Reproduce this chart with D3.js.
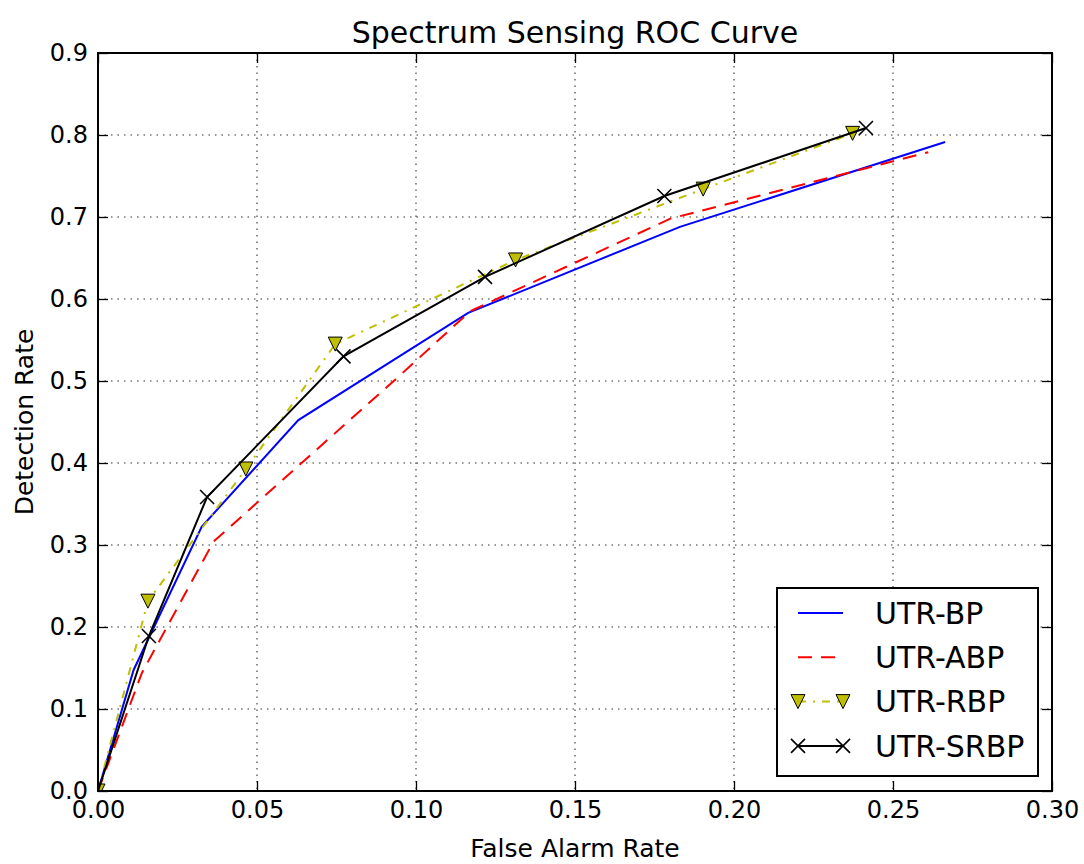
<!DOCTYPE html>
<html>
<head>
<meta charset="utf-8">
<script src="https://cdn.jsdelivr.net/npm/d3@7"></script>
<style>
  html, body { margin: 0; padding: 0; background: #fff; }
  svg { display: block; font-family: "DejaVu Sans", sans-serif; }
</style>
</head>
<body>
<svg id="chart" width="1084" height="864"></svg>
<script>
// ---- data ----
const xTicks = [0.00, 0.05, 0.10, 0.15, 0.20, 0.25, 0.30];
const yTicks = [0.0, 0.1, 0.2, 0.3, 0.4, 0.5, 0.6, 0.7, 0.8, 0.9];

const seriesNames = ["UTR-BP", "UTR-ABP", "UTR-RBP", "UTR-SRBP"];

const faBP = [0, 0.0112, 0.0326, 0.0630, 0.1164, 0.1830, 0.2664];
const drBP = [0, 0.1476, 0.3223, 0.4524, 0.5830, 0.6880, 0.7915];

const faABP = [0, 0.0138, 0.0363, 0.0640, 0.0930, 0.1170, 0.1800, 0.2611];
const drABP = [0, 0.1440, 0.3040, 0.4000, 0.5000, 0.5850, 0.6980, 0.7790];

const faRBP = [0, 0.0157, 0.0465, 0.0746, 0.1313, 0.1903, 0.2373];
const drRBP = [0, 0.2315, 0.3927, 0.5450, 0.6476, 0.7340, 0.8020];

const faSRBP = [0, 0.0160, 0.0343, 0.0772, 0.1217, 0.1781, 0.2415];
const drSRBP = [0, 0.1890, 0.3585, 0.5300, 0.6270, 0.7256, 0.8085];

// ---- layout / styles ----
const W = 1084, H = 864;
const plot = { left: 98, right: 1052, top: 53, bottom: 791 };
const FONT = "'DejaVu Sans', sans-serif";

const styles = [
  { color: "#0000ff", dash: null, marker: null, firstMarker: 0 },
  { color: "#ff0000", dash: "14,9", marker: null, firstMarker: 0 },
  { color: "#bfbf00", dash: "8,7,2,7", marker: "tri", firstMarker: 0 },
  { color: "#000000", dash: null, marker: "x", firstMarker: 1 }
];

const series = [
  { name: seriesNames[0], x: faBP, y: drBP },
  { name: seriesNames[1], x: faABP, y: drABP },
  { name: seriesNames[2], x: faRBP, y: drRBP },
  { name: seriesNames[3], x: faSRBP, y: drSRBP }
].map((s, i) => ({ ...s, style: styles[i], pts: s.x.map((v, k) => [v, s.y[k]]) }));

const svg = d3.select("#chart");
const x = d3.scaleLinear().domain([0, 0.30]).range([plot.left, plot.right]);
const y = d3.scaleLinear().domain([0, 0.9]).range([plot.bottom, plot.top]);

svg.append("rect").attr("width", W).attr("height", H).attr("fill", "#fff");

svg.append("defs").append("clipPath").attr("id", "clip")
  .append("rect")
  .attr("x", plot.left).attr("y", plot.top)
  .attr("width", plot.right - plot.left).attr("height", plot.bottom - plot.top);

// grid
const grid = svg.append("g").attr("stroke", "#333").attr("stroke-width", 1.1)
  .attr("stroke-dasharray", "1.5,5");
grid.selectAll(".gx").data(xTicks).join("line")
  .attr("x1", d => x(d)).attr("x2", d => x(d))
  .attr("y1", plot.top).attr("y2", plot.bottom);
grid.selectAll(".gy").data(yTicks).join("line")
  .attr("y1", d => y(d)).attr("y2", d => y(d))
  .attr("x1", plot.left).attr("x2", plot.right);

// lines
const lineGen = d3.line().x(d => x(d[0])).y(d => y(d[1]));
const plotG = svg.append("g").attr("clip-path", "url(#clip)");

function drawMarker(g, type, cx, cy, color, sz) {
  if (type === "tri") {
    g.append("path")
      .attr("d", `M${cx - sz},${cy - sz}L${cx + sz},${cy - sz}L${cx},${cy + sz}Z`)
      .attr("fill", color).attr("stroke", "#000").attr("stroke-width", 1);
  } else if (type === "x") {
    g.append("path")
      .attr("d", `M${cx - sz},${cy - sz}L${cx + sz},${cy + sz}M${cx - sz},${cy + sz}L${cx + sz},${cy - sz}`)
      .attr("fill", "none").attr("stroke", color).attr("stroke-width", 1.6);
  }
}

series.forEach(s => {
  plotG.append("path")
    .attr("d", lineGen(s.pts))
    .attr("fill", "none")
    .attr("stroke", s.style.color)
    .attr("stroke-width", 2)
    .attr("stroke-dasharray", s.style.dash);
  if (s.style.marker) {
    const mg = plotG.append("g");
    s.pts.forEach((p, k) => {
      if (k < s.style.firstMarker) return;
      drawMarker(mg, s.style.marker, x(p[0]), y(p[1]), s.style.color, 7);
    });
  }
});

// axes (ticks inside on all four sides)
const TS = 10;
const axB = svg.append("g").attr("transform", `translate(0,${plot.bottom})`)
  .call(d3.axisBottom(x).tickValues(xTicks).tickSize(-TS).tickPadding(10).tickFormat(d3.format(".2f")));
const axL = svg.append("g").attr("transform", `translate(${plot.left},0)`)
  .call(d3.axisLeft(y).tickValues(yTicks).tickSize(-TS).tickPadding(10).tickFormat(d3.format(".1f")));
const axT = svg.append("g").attr("transform", `translate(0,${plot.top})`)
  .call(d3.axisTop(x).tickValues(xTicks).tickSize(-TS).tickFormat(""));
const axR = svg.append("g").attr("transform", `translate(${plot.right},0)`)
  .call(d3.axisRight(y).tickValues(yTicks).tickSize(-TS).tickFormat(""));
[axB, axL, axT, axR].forEach(a => {
  a.select(".domain").remove();
  a.selectAll(".tick line").attr("stroke", "#000").attr("stroke-width", 1.3);
  a.selectAll(".tick text").attr("font-family", FONT).attr("font-size", 24).attr("fill", "#000");
});

// spines
svg.append("rect")
  .attr("x", plot.left).attr("y", plot.top)
  .attr("width", plot.right - plot.left).attr("height", plot.bottom - plot.top)
  .attr("fill", "none").attr("stroke", "#000").attr("stroke-width", 2);

// title & labels
svg.append("text").attr("x", (plot.left + plot.right) / 2).attr("y", 43)
  .attr("text-anchor", "middle").attr("font-family", FONT).attr("font-size", 30)
  .text("Spectrum Sensing ROC Curve");
svg.append("text").attr("x", (plot.left + plot.right) / 2).attr("y", 857)
  .attr("text-anchor", "middle").attr("font-family", FONT).attr("font-size", 25)
  .text("False Alarm Rate");
svg.append("text")
  .attr("transform", `translate(33,${(plot.top + plot.bottom) / 2}) rotate(-90)`)
  .attr("text-anchor", "middle").attr("font-family", FONT).attr("font-size", 25)
  .text("Detection Rate");

// legend
const leg = svg.append("g");
leg.append("rect").attr("x", 777).attr("y", 588).attr("width", 261).attr("height", 188)
  .attr("fill", "#fff").attr("stroke", "#000").attr("stroke-width", 2);
const legY0 = 613, legDy = 44.3, lx0 = 798, lx1 = 843;
series.forEach((s, i) => {
  const ly = legY0 + i * legDy;
  leg.append("line").attr("x1", lx0).attr("x2", lx1).attr("y1", ly).attr("y2", ly)
    .attr("stroke", s.style.color).attr("stroke-width", 2)
    .attr("stroke-dasharray", s.style.dash);
  if (s.style.marker) {
    drawMarker(leg, s.style.marker, lx0, ly, s.style.color, 7);
    drawMarker(leg, s.style.marker, lx1, ly, s.style.color, 7);
  }
  leg.append("text").attr("x", 875).attr("y", ly).attr("dy", "0.36em")
    .attr("font-family", FONT).attr("font-size", 30).text(s.name);
});
</script>
</body>
</html>
